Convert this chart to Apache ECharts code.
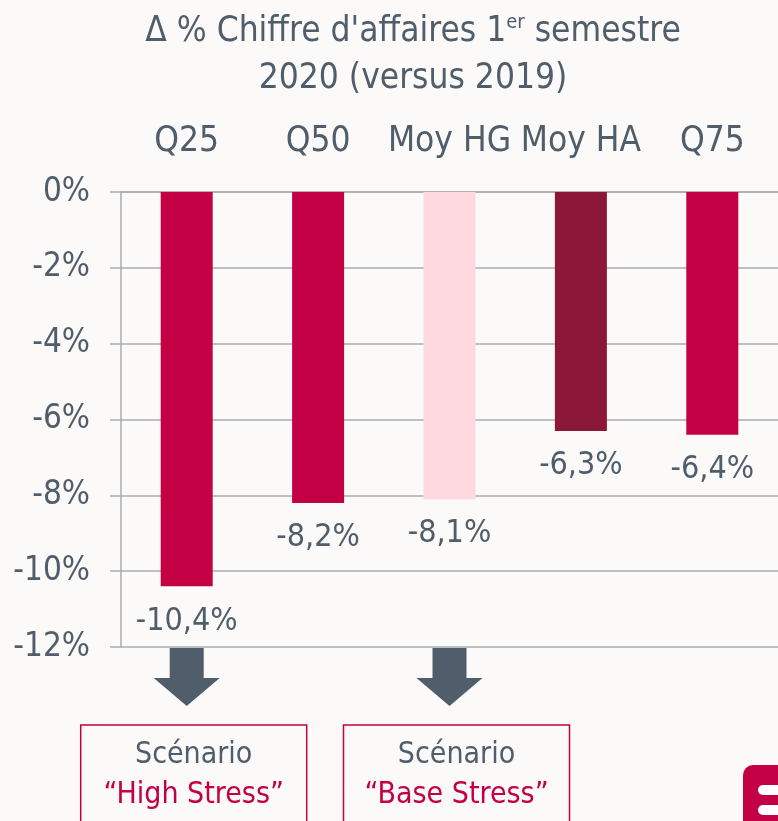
<!DOCTYPE html>
<html>
<head>
<meta charset="utf-8">
<script src="https://cdn.jsdelivr.net/npm/echarts@6/dist/echarts.min.js"></script>
<style>
  html, body { margin: 0; padding: 0; background: #fcf9f9; }
  #chart { width: 778px; height: 821px; }
</style>
</head>
<body>
<div id="chart"></div>
<script>
// données
var categories = ['Q25', 'Q50', 'Moy HG', 'Moy HA', 'Q75'];
var values = [-10.4, -8.2, -8.1, -6.3, -6.4];
var yTicks = [0, -2, -4, -6, -8, -10, -12];
var scenarios = [
  { cat: 'Q25', line1: 'Scénario', line2: '\u201cHigh Stress\u201d' },
  { cat: 'Moy HG', line1: 'Scénario', line2: '\u201cBase Stress\u201d' }
];

var barColors = ['#c30044', '#c30044', '#fdd8df', '#8c1839', '#c30044'];
var FONT = '"DejaVu Sans Condensed", "Liberation Sans Narrow", sans-serif';
var SLATE = '#4f5e6a';
var GRIDC = '#a9adb1';

var chart = echarts.init(document.getElementById('chart'));

chart.setOption({
  backgroundColor: '#fcf9f9',
  animation: false,
  title: {
    left: 408,
    top: 3,
    textAlign: 'center',
    text: '{n|\u0394 % Chiffre d\'affaires 1}{sup|er}{n| semestre}\n{n|2020 (versus 2019)}',
    textStyle: {
      fontWeight: 'normal',
      rich: {
        n: { fontFamily: FONT, fontSize: 35, fontWeight: 'normal', color: SLATE, lineHeight: 47 },
        sup: { fontFamily: FONT, fontSize: 20, fontWeight: 'normal', color: SLATE, lineHeight: 20, verticalAlign: 'top', padding: [5, 0, 0, 0] }
      }
    }
  },
  grid: {
    left: 121,
    top: 192,
    width: 666,
    height: 455
  },
  xAxis: {
    type: 'category',
    position: 'top',
    data: categories,
    axisLine: { lineStyle: { color: GRIDC, width: 1.5 } },
    axisTick: { inside: true, length: 12, lineStyle: { color: GRIDC, width: 1.5 } },
    axisLabel: {
      interval: 0,
      hideOverlap: false,
      margin: 33,
      fontFamily: FONT,
      fontSize: 35,
      color: SLATE
    }
  },
  yAxis: {
    type: 'value',
    min: -12,
    max: 0,
    interval: 2,
    axisLine: { show: true, lineStyle: { color: GRIDC, width: 1.5 } },
    axisTick: { show: true, length: 11, lineStyle: { color: GRIDC, width: 1.5 } },
    splitLine: { lineStyle: { color: GRIDC, width: 1.5 } },
    axisLabel: {
      margin: 31,
      fontFamily: FONT,
      fontSize: 33,
      color: SLATE,
      formatter: function (v) { return v + '%'; }
    }
  },
  series: [{
    type: 'bar',
    data: values,
    barWidth: 52,
    itemStyle: {
      color: function (p) { return barColors[p.dataIndex]; }
    },
    label: {
      show: true,
      position: 'bottom',
      distance: 19,
      fontFamily: FONT,
      fontSize: 32,
      color: SLATE,
      formatter: function (p) { return p.value.toFixed(1).replace('.', ',') + '%'; }
    }
  }]
});

// flèches et encadrés des scénarios
var yBottom = chart.convertToPixel({ yAxisIndex: 0 }, -12);
var graphics = [];
scenarios.forEach(function (s) {
  var cx = chart.convertToPixel({ xAxisIndex: 0 }, s.cat);
  var top = yBottom + 1;
  graphics.push({
    type: 'polygon',
    shape: {
      points: [
        [cx - 17, top], [cx + 17, top], [cx + 17, top + 30], [cx + 33, top + 30],
        [cx, top + 58], [cx - 33, top + 30], [cx - 17, top + 30]
      ]
    },
    style: { fill: SLATE }
  });
  graphics.push({
    type: 'rect',
    shape: { x: cx - 106, y: top + 77, width: 226, height: 120 },
    style: { fill: 'transparent', stroke: '#c30044', lineWidth: 1.5 }
  });
  graphics.push({
    type: 'text',
    x: cx + 7, y: top + 107,
    style: { text: s.line1, fontFamily: FONT, fontSize: 30, fill: SLATE, align: 'center', verticalAlign: 'middle' }
  });
  graphics.push({
    type: 'text',
    x: cx + 7, y: top + 147,
    style: { text: s.line2, fontFamily: FONT, fontSize: 30, fill: '#c30044', align: 'center', verticalAlign: 'middle' }
  });
});

// logo coin bas droit
graphics.push({
  type: 'rect',
  shape: { x: 743, y: 765, width: 60, height: 80, r: 10 },
  style: { fill: '#c30044' }
});
graphics.push({
  type: 'rect',
  shape: { x: 758, y: 785, width: 40, height: 10, r: 5 },
  style: { fill: '#ffffff' }
});
graphics.push({
  type: 'rect',
  shape: { x: 758, y: 805, width: 40, height: 10, r: 5 },
  style: { fill: '#ffffff' }
});

chart.setOption({ graphic: graphics });
</script>
</body>
</html>
